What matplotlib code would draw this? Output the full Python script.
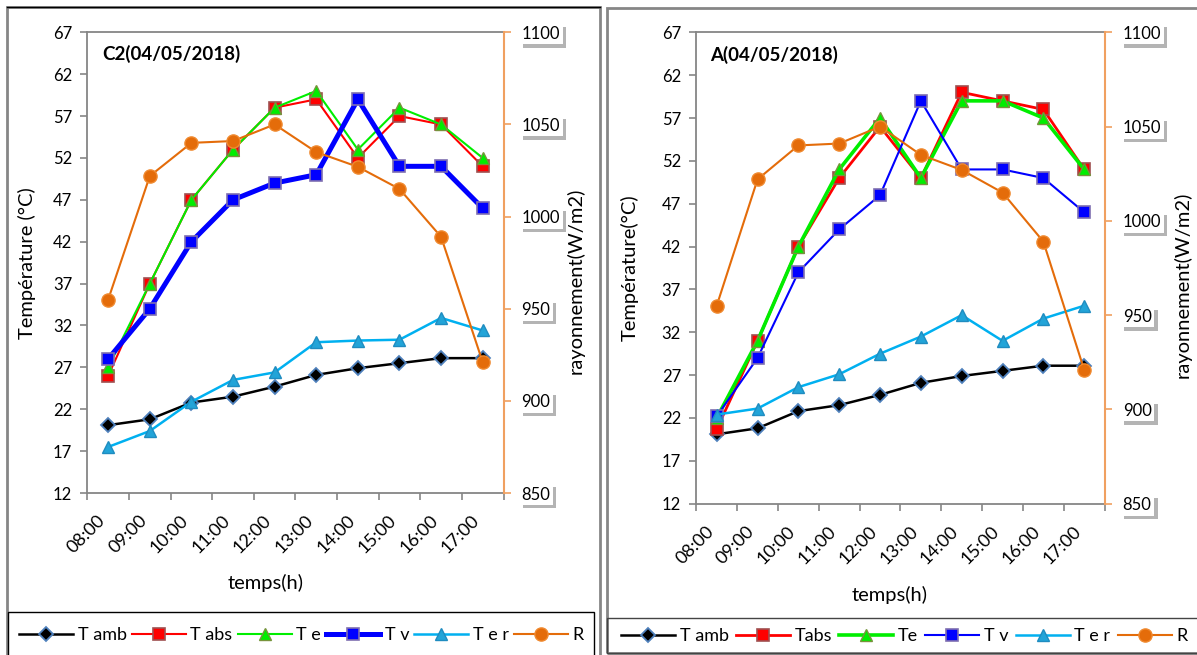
import matplotlib.pyplot as plt
import matplotlib.patheffects as pe
from matplotlib.patches import Rectangle
import numpy as np

plt.rcParams['font.family'] = ['Lato', 'DejaVu Sans']

W, H = 1197, 655

hours = ['08:00', '09:00', '10:00', '11:00', '12:00',
         '13:00', '14:00', '15:00', '16:00', '17:00']

# ambient temperature and solar radiation, same day for both setups
t_amb = [20.1, 20.8, 22.8, 23.5, 24.7, 26.1, 26.9, 27.5, 28.1, 28.1]
rayonnement = [955, 1022, 1040, 1041, 1050, 1035, 1027, 1015, 989, 921]

# setup C2
c2_t_abs = [26, 37, 47, 53, 58, 59, 52, 57, 56, 51]
c2_t_e = [27, 37, 47, 53, 58, 60, 53, 58, 56, 52]
c2_t_v = [28, 34, 42, 47, 49, 50, 59, 51, 51, 46]
c2_t_er = [17.5, 19.4, 22.9, 25.5, 26.4, 30.0, 30.2, 30.3, 32.9, 31.4]

# setup A
a_t_abs = [20.7, 31, 42, 50, 56, 50, 60, 59, 58, 51]
a_t_e = [22, 31, 42, 51, 57, 50, 59, 59, 57, 51]
a_t_v = [22.2, 29, 39, 44, 48, 59, 51, 51, 50, 46]
a_t_er = [22.4, 23.1, 25.6, 27.1, 29.5, 31.5, 34.0, 31.0, 33.6, 35.1]

temp_ticks = [12, 17, 22, 27, 32, 37, 42, 47, 52, 57, 62, 67]
ray_ticks = [850, 900, 950, 1000, 1050, 1100]

GREY = '#868686'
ORANGE = '#E46C0A'

styles = {
    'amb': dict(color='black', marker='D', mfc='black', mec='#4F81BD', ms=7.5, mew=1.3),
    'abs': dict(color='#FF0000', marker='s', mfc='#FF0000', mec='#A05050', ms=8, mew=1.2),
    'e':   dict(color='#00EE00', marker='^', mfc='#00EE00', mec='#77933C', ms=9, mew=1.0),
    'v':   dict(color='#0000FF', marker='s', mfc='#0000FF', mec='#7F6FB0', ms=8, mew=1.2),
    'er':  dict(color='#00B0F0', marker='^', mfc='#22A4D8', mec='#1F8CC0', ms=9, mew=1.0),
    'r':   dict(color=ORANGE, marker='o', mfc=ORANGE, mec='#F08A30', ms=9.5, mew=1.0),
}


def fig_rect(x0, y0, x1, y1):
    return [x0 / W, 1 - y1 / H, (x1 - x0) / W, (y1 - y0) / H]


def draw_panel(fig, box, title, temps, widths, names, ylabel, coords):
    ax = fig.add_axes(fig_rect(*box))
    x = np.arange(len(hours))
    handles = []
    for key, vals, lw, name in zip(['amb', 'abs', 'e', 'v', 'er'], temps, widths, names):
        h, = ax.plot(x, vals, lw=lw, label=name, **styles[key])
        handles.append(h)

    ax.set_xlim(-0.5, len(hours) - 0.5)
    ax.set_ylim(12, 67)
    ax.set_yticks(temp_ticks)
    ax.set_xticks(x)
    ax.set_xticklabels(hours, rotation=45, ha='right', va='top')
    ax.set_xticks(np.arange(-0.5, len(hours)), minor=True)
    ax.tick_params(axis='x', which='major', length=0, pad=14, labelsize=13)
    ax.tick_params(axis='x', which='minor', length=5, color=GREY, width=1.2)
    ax.tick_params(axis='y', length=5, color=GREY, width=1.2, pad=6, labelsize=12)
    for s in ['left', 'bottom', 'top']:
        ax.spines[s].set_color(GREY)
        ax.spines[s].set_linewidth(1.3)
    ax.spines['right'].set_visible(False)

    ax.set_ylabel(ylabel, fontsize=14.5)
    ax.yaxis.set_label_coords(coords['yl'], 0.5)
    ax.set_xlabel('temps(h)', fontsize=14.5)
    ax.xaxis.set_label_coords(coords['xl'], coords['xly'])
    ax.text(coords['tx'], coords['ty'], title, transform=ax.transAxes,
            fontsize=13.5, fontweight='bold', ha='left', va='center')

    ax2 = ax.twinx()
    h, = ax2.plot(x, rayonnement, lw=widths[5], label=names[5], **styles['r'])
    handles.append(h)
    ax2.set_ylim(850, 1100)
    ax2.set_yticks(ray_ticks)
    ax2.tick_params(axis='y', length=5, color='#F0A060', width=1.2, pad=8, labelsize=12)
    for s in ['left', 'bottom', 'top']:
        ax2.spines[s].set_visible(False)
    ax2.spines['right'].set_color('#F0A060')
    ax2.spines['right'].set_linewidth(1.5)
    ax2.set_ylabel('rayonnement(W/m2)', fontsize=14.5)
    ax2.yaxis.set_label_coords(coords['yr'], coords['yry'])

    # white boxed tick labels with a drop shadow
    for lbl in ax2.get_yticklabels():
        lbl.set_bbox(dict(boxstyle='square,pad=0.15', fc='white', ec='none'))
        lbl.get_bbox_patch().set_path_effects([
            pe.SimplePatchShadow(offset=(2.5, -2.5), shadow_rgbFace='#777777', alpha=0.55),
            pe.Normal()])
    return handles


fig = plt.figure(figsize=(W / 100, H / 100), dpi=100)

# panel frames and legend boxes
for (x0, y0, x1, y1), ec, lw in [((7, 7, 600, 680), GREY, 2),
                                  ((607, 8, 1210, 653), GREY, 2),
                                  ((8, 612, 594, 680), 'black', 1),
                                  ((607, 618, 1210, 653), '#444444', 1)]:
    fig.add_artist(Rectangle((x0 / W, 1 - y1 / H), (x1 - x0) / W, (y1 - y0) / H,
                             transform=fig.transFigure, fill=False, ec=ec, lw=lw))
fig.add_artist(plt.Line2D([7 / W, 600 / W], [1 - 7 / H, 1 - 7 / H],
                          transform=fig.transFigure, color='black', lw=1))

left_handles = draw_panel(
    fig, (87.4, 32.3, 503.5, 493), 'C2(04/05/2018)',
    [t_amb, c2_t_abs, c2_t_e, c2_t_v, c2_t_er],
    [1.8, 1.5, 1.5, 3.6, 1.8, 1.5],
    ['T amb', 'T abs', 'T e', 'T v', 'T e r', 'R'],
    'Température (°C)',
    dict(yl=-0.1235, xl=0.429, xly=-0.176, tx=0.0365, ty=0.954, yr=1.1526, yry=0.46))

right_handles = draw_panel(
    fig, (696.3, 32.3, 1104.6, 503.7), 'A(04/05/2018)',
    [t_amb, a_t_abs, a_t_e, a_t_v, a_t_er],
    [1.8, 2.0, 2.6, 1.5, 1.8, 1.5],
    ['T amb', 'Tabs', 'Te', 'T v', 'T e r', 'R'],
    'Température(°C)',
    dict(yl=-0.14, xl=0.474, xly=-0.175, tx=0.033, ty=0.952, yr=1.17, yry=0.464))

for handles, x0, yc, spacing in [(left_handles, 19, 635, 0.28), (right_handles, 621, 636, 0.4)]:
    fig.legend(handles=handles, loc='center left', bbox_to_anchor=(x0 / W, 1 - yc / H),
               ncol=6, frameon=False, fontsize=13, handlelength=3.0, handletextpad=0.25,
               columnspacing=spacing, borderpad=0, borderaxespad=0)

fig.savefig('out.png', dpi=100)
